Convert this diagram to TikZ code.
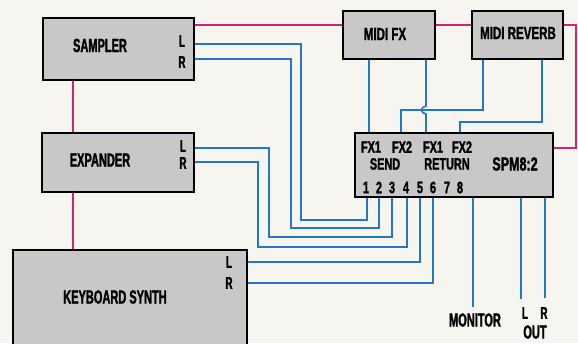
\documentclass[tikz,border=0pt]{standalone}
\usepackage{fontspec}
\setmainfont{Liberation Sans}
\newfontfamily\cf{Liberation Sans}[FakeStretch=0.58,FakeBold=1.4]
\newfontfamily\cfw{Liberation Sans}[FakeStretch=0.66,FakeBold=1.4]
\definecolor{bluec}{RGB}{35,118,200}
\definecolor{pinkc}{RGB}{205,40,110}
\definecolor{bgc}{RGB}{247,245,240}
\definecolor{boxgray}{RGB}{200,200,200}
\begin{document}
\begin{tikzpicture}[x=1pt,y=-1pt,
  box/.style={draw=black, line width=1.8pt, fill=boxgray, inner sep=0pt, anchor=center},
  pk/.style={draw=pinkc, line width=1.3pt},
  bl/.style={draw=bluec, line width=1.6pt},
  big/.style={font=\cf\bfseries\fontsize{19}{19}\selectfont, inner sep=0pt, anchor=center},
  wid/.style={font=\cfw\bfseries\fontsize{17.5}{17.5}\selectfont, inner sep=0pt, anchor=center},
  mid/.style={font=\cfw\bfseries\fontsize{16.5}{16.5}\selectfont, inner sep=0pt, anchor=center},
  sml/.style={font=\cf\bfseries\fontsize{17}{17}\selectfont, inner sep=0pt, anchor=center}]
\useasboundingbox (0,0) rectangle (578,343);
\clip (0,0) rectangle (578,343);
\fill[bgc] (0,0) rectangle (578,343);

% port coordinates
\coordinate (smpP) at (194,25);
\coordinate (mfxPw) at (343,25);
\coordinate (mfxPe) at (435,25);
\coordinate (mrvPw) at (472,25);
\coordinate (mrvPe) at (563,25);
\coordinate (rc1) at (576,25);
\coordinate (rc2) at (576,148);
\coordinate (spmP) at (553,148);
\coordinate (smpS) at (73,80);
\coordinate (expN) at (73,133);
\coordinate (expS) at (73,192);
\coordinate (kbdN) at (73,250);

\coordinate (smpL) at (194,44);
\coordinate (smpR) at (194,59);
\coordinate (expL) at (194,148);
\coordinate (expR) at (194,162);
\coordinate (kbdL) at (247,262);
\coordinate (kbdR) at (247,283);
\coordinate (in1) at (367,197);
\coordinate (in2) at (379,197);
\coordinate (in3) at (392,197);
\coordinate (in4) at (407,197);
\coordinate (in5) at (420,197);
\coordinate (in6) at (433,197);
\coordinate (monP) at (473,197);
\coordinate (outLP) at (521,197);
\coordinate (outRP) at (545,197);
\coordinate (monE) at (473,307);
\coordinate (outLE) at (521,299);
\coordinate (outRE) at (545,298);

\coordinate (mfxA) at (369,59);
\coordinate (mfxB) at (426,59);
\coordinate (mrvA) at (483,59);
\coordinate (mrvB) at (542,59);
\coordinate (fx1s) at (369,133);
\coordinate (fx2s) at (401,133);
\coordinate (fx1r) at (426,133);
\coordinate (fx2r) at (460,133);

% pink MIDI lines
\draw[pk] (smpP) -- (mfxPw);
\draw[pk] (mfxPe) -- (mrvPw);
\draw[pk] (mrvPe) -- (rc1) -- (rc2) -- (spmP);
\draw[pk] (smpS) -- (expN);
\draw[pk] (expS) -- (kbdN);

% blue audio lines
\draw[bl] (smpL) -- (301,44) -- (301,220) -- (367,220) -- (in1);
\draw[bl] (smpR) -- (291,59) -- (291,228) -- (379,228) -- (in2);
\draw[bl] (expL) -- (269,148) -- (269,237) -- (392,237) -- (in3);
\draw[bl] (expR) -- (258,162) -- (258,247) -- (407,247) -- (in4);
\draw[bl] (kbdL) -- (420,262) -- (in5);
\draw[bl] (kbdR) -- (433,283) -- (in6);
\draw[bl] (mfxA) -- (fx1s);
\draw[bl] (mfxB) -- (426,106) .. controls (420,107) and (420,113) .. (426,114) -- (fx1r);
\draw[bl] (mrvA) -- (483,110) -- (401,110) -- (fx2s);
\draw[bl] (mrvB) -- (542,122) -- (460,122) -- (fx2r);
\draw[bl] (monP) -- (monE);
\draw[bl] (outLP) -- (outLE);
\draw[bl] (outRP) -- (outRE);

% boxes
\node[box, minimum width=151pt, minimum height=62pt] (smp) at (118.5,49) {};
\node[box, minimum width=152pt, minimum height=59pt] (exp) at (118,162.5) {};
\node[box, minimum width=234pt, minimum height=100pt] (kbd) at (130,300) {};
\node[box, minimum width=92pt, minimum height=48pt] (mfx) at (389,35) {};
\node[box, minimum width=91pt, minimum height=48pt] (mrv) at (517.5,35) {};
\node[box, minimum width=198pt, minimum height=64pt] (spm) at (454,165) {};

% labels
\node[big] (tsmp) at (100,45.5) {SAMPLER};
\node[sml] (tsmpL) at (182,41) {L};
\node[sml] (tsmpR) at (182,62) {R};
\node[big] (texp) at (100,160) {EXPANDER};
\node[sml] (texpL) at (183,146) {L};
\node[sml] (texpR) at (183,163) {R};
\node[big] (tkbd) at (115,297) {KEYBOARD SYNTH};
\node[sml] (tkbdL) at (229,262) {L};
\node[sml] (tkbdR) at (229,283) {R};
\node[wid] (tmfx) at (385,34) {MIDI FX};
\node[wid] (tmrv) at (518,33) {MIDI REVERB};

\node[mid] (a1) at (371,147) {FX1};
\node[mid] (a2) at (402,147) {FX2};
\node[mid] (a3) at (433,147) {FX1};
\node[mid] (a4) at (462,147) {FX2};
\node[mid] (tsend) at (385,164) {SEND};
\node[mid] (tret) at (447,164) {RETURN};
\node[font=\cfw\bfseries\fontsize{19}{19}\selectfont, inner sep=0pt] (tspm) at (515,164) {SPM8:2};
\foreach \d/\x in {1/366,2/379,3/392,4/406,5/420,6/433,7/447,8/460}
  \node[mid] (n\d) at (\x,187.5) {\d};

\node[big] (tmon) at (475,320) {MONITOR};
\node[sml] (toL) at (525,313) {L};
\node[sml] (toR) at (544,313) {R};
\node[big] (tout) at (535,332) {OUT};
\end{tikzpicture}
\end{document}
